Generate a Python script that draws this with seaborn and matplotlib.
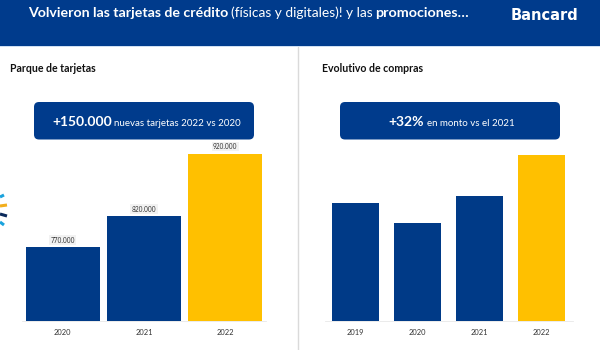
import matplotlib
matplotlib.use("Agg")
import matplotlib.pyplot as plt
import seaborn as sns
from matplotlib.patches import FancyBboxPatch, Rectangle

years_left = ["2020", "2021", "2022"]
cards = [770000, 820000, 920000]
card_labels = ["770.000", "820.000", "920.000"]

years_right = ["2019", "2020", "2021", "2022"]
purchases = [94.4, 78.4, 100, 132.8]

BLUE = "#003A87"
HEADER = "#003B8C"
YELLOW = "#FFC000"

sns.set_theme(style="white")
plt.rcParams["font.family"] = ["Lato", "DejaVu Sans"]

fig = plt.figure(figsize=(6, 3.5), dpi=100)
W, H = 600, 350

# overlay in pixel coordinates for the slide furniture
bg = fig.add_axes([0, 0, 1, 1])
bg.set_xlim(0, W)
bg.set_ylim(H, 0)
bg.axis("off")
bg.add_patch(Rectangle((0, 0), W, 46, color=HEADER, lw=0))
bg.add_patch(Rectangle((0, 46), W, 1, color="#CFE0F3", lw=0))
bg.plot([297.5, 297.5], [47, 350], color="#DADADA", lw=1)

# title pieces, x positions
bg.text(28, 17, "Volvieron las tarjetas de crédito", fontsize=10.2, color="white", fontweight="bold", va="baseline")
bg.text(231, 17, "(físicas y digitales)! y las", fontsize=9.9, color="white", va="baseline")
bg.text(375, 17, "promociones…", fontsize=10.3, color="white", fontweight="bold", va="baseline")
bg.text(544.5, 20, "Bancard", fontsize=10.5, color="white", fontweight="bold",
        ha="center", va="baseline", family="DejaVu Sans")

bg.text(9.5, 72, "Parque de tarjetas", fontsize=7.6, color="#111111", fontweight="bold", va="baseline")
bg.text(322, 72, "Evolutivo de compras", fontsize=7.6, color="#111111", fontweight="bold", va="baseline")

for x0 in (34, 340):
    bg.add_patch(FancyBboxPatch((x0 + 5, 102 + 5), 220 - 10, 37.5 - 10,
                                boxstyle="round,pad=5,rounding_size=5", fc=HEADER, ec="none"))

bg.text(52, 126, "+150.000", fontsize=10, color="white", fontweight="bold", va="baseline")
bg.text(113.5, 126, "nuevas tarjetas 2022 vs 2020", fontsize=7, color="white", va="baseline")
bg.text(388, 126, "+32%", fontsize=10, color="white", fontweight="bold", va="baseline")
bg.text(427, 126, "en monto vs el 2021", fontsize=7, color="white", va="baseline")

# little sunburst cut off by the left edge
for (x1, y1, x2, y2, c) in [(0, 197, 4, 195, "#1BA3DD"), (0, 206, 7, 205, "#F2AE1C"),
                            (0, 214, 7, 216, "#0B2A5B"), (0, 222, 4, 225, "#1BA3DD")]:
    bg.plot([x1, x2], [y1, y2], color=c, lw=2.2, solid_capstyle="butt")


def make_axes(x0, x1, top, base):
    ax = fig.add_axes([x0 / W, 1 - base / H, (x1 - x0) / W, (base - top) / H])
    ax.patch.set_alpha(0)
    return ax


ax1 = make_axes(22, 266, 140, 321)
sns.barplot(x=years_left, y=cards, hue=years_left, palette=[BLUE, BLUE, YELLOW], legend=False,
            width=0.91, saturation=1, linewidth=0, ax=ax1)
ax1.set_ylim(652000, 652000 + 181 / 0.000625)
for c, lab in zip(ax1.containers, card_labels):
    ax1.bar_label(c, labels=[lab], fontsize=4.7, color="#333333", padding=2.5,
                  bbox=dict(fc="#F2F2F2", ec="none", pad=1))

ax2 = make_axes(324.5, 572.5, 140, 321)
sns.barplot(x=years_right, y=purchases, hue=years_right, palette=[BLUE, BLUE, BLUE, YELLOW], legend=False,
            width=0.77, saturation=1, linewidth=0, ax=ax2)
ax2.set_ylim(0, 181 / 125 * 100)

for ax in (ax1, ax2):
    ax.set_xlabel("")
    ax.set_ylabel("")
    ax.set_yticks([])
    ax.tick_params(axis="x", length=0, labelsize=5.4, labelcolor="#333333", pad=6)
    sns.despine(ax=ax, left=True, top=True, right=True, bottom=False)
    ax.spines["bottom"].set_color("#E8E8E8")
    ax.spines["bottom"].set_linewidth(0.6)

fig.savefig("out.png", dpi=100)
